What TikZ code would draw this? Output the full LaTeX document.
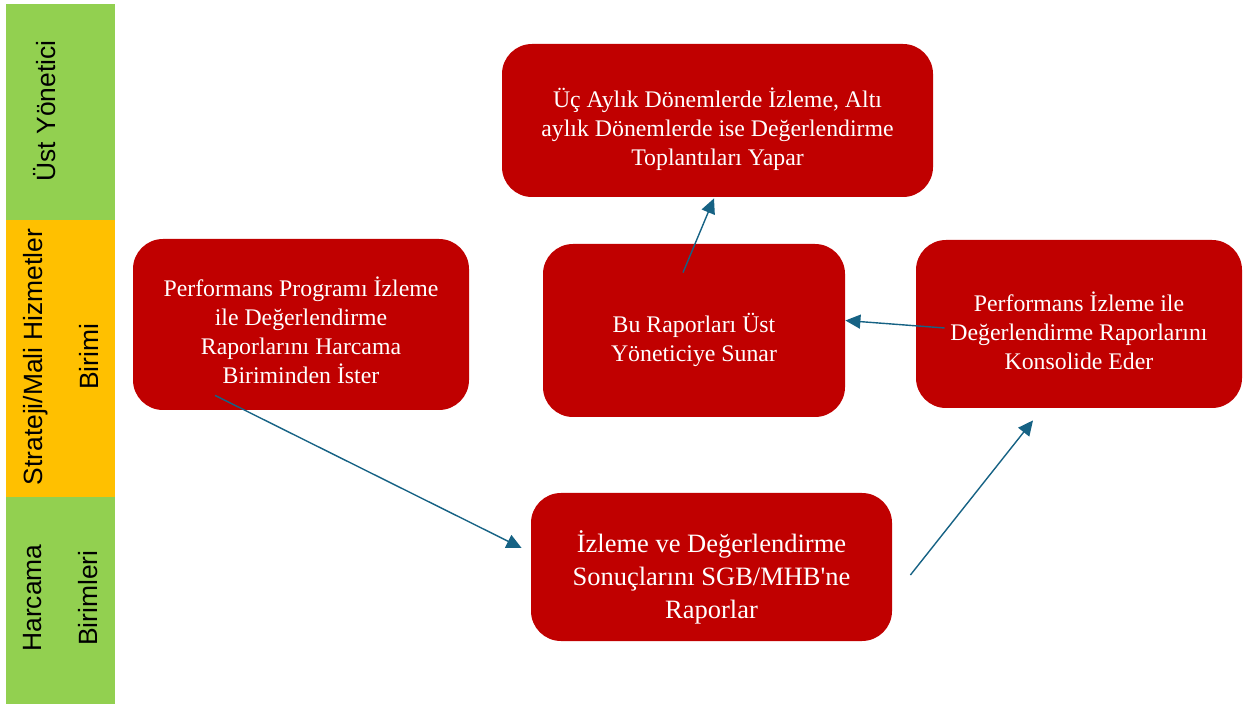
\documentclass[tikz,border=0pt]{standalone}
\usepackage{fontspec}
\setmainfont{Liberation Serif}
\setsansfont{Liberation Sans}
\usetikzlibrary{arrows.meta}

\definecolor{laneGreen}{RGB}{146,208,80}
\definecolor{laneOrange}{RGB}{255,192,0}
\definecolor{boxRed}{RGB}{192,0,0}
\definecolor{flowBlue}{RGB}{22,98,132}

% lines of a step, lowered by #1 inside the box
\newcommand{\steplines}[2]{\raisebox{-#1}[\height][\depth]{\begin{tabular}{@{}c@{}}#2\end{tabular}}}

\tikzset{
  stepbox/.style={fill=boxRed, rounded corners=15pt, text=white, align=center,
    inner sep=0pt, font=\fontsize{11.9}{14.5}\selectfont},
  lanetext/.style={rotate=90, align=center, font=\sffamily\fontsize{13.2}{28}\selectfont},
  flow/.style={draw=flowBlue, line width=0.7pt, -{Triangle[length=7.5pt,width=7pt]}},
}

\begin{document}
\begin{tikzpicture}[x=0.5pt, y=-0.5pt]
  \useasboundingbox (0,0) rectangle (1246,704);

  % swim lanes
  \fill[laneGreen]  (6,4)   rectangle (115,220);
  \fill[laneOrange] (6,220) rectangle (115,497);
  \fill[laneGreen]  (6,497) rectangle (115,704);
  \node[lanetext] (ustlane)  at (45,111) {Üst Yönetici};
  \node[lanetext] (sgblane)  at (61,357) {Strateji/Mali Hizmetler\\Birimi};
  \node[lanetext] (harclane) at (61,598) {Harcama\\Birimleri};

  % steps
  \node[stepbox, minimum width=215.5pt, minimum height=76.5pt] (toplanti) at (717.5,120.5)
    {\steplines{5.25pt}{Üç Aylık Dönemlerde İzleme, Altı\\aylık Dönemlerde ise Değerlendirme\\Toplantıları Yapar}};
  \node[stepbox, minimum width=151pt, minimum height=86.5pt] (sunar) at (694,330.5)
    {\steplines{5.5pt}{Bu Raporları Üst\\Yöneticiye Sunar}};
  \node[stepbox, minimum width=163pt, minimum height=84pt] (konsolide) at (1079,324)
    {\steplines{5.5pt}{Performans İzleme ile\\Değerlendirme Raporlarını\\Konsolide Eder}};
  \node[stepbox, minimum width=168pt, minimum height=85.5pt] (ister) at (301,324.5)
    {\steplines{5pt}{Performans Programı İzleme\\ile Değerlendirme\\Raporlarını Harcama\\Biriminden İster}};
  \node[stepbox, minimum width=180.5pt, minimum height=74pt,
    font=\fontsize{13.25}{16.5}\selectfont] (sonuc) at (711.5,567)
    {\steplines{6pt}{İzleme ve Değerlendirme\\Sonuçlarını SGB/MHB\textquotesingle ne\\Raporlar}};

  % flow
  \draw[flow] ([xshift=-43pt,yshift=7.5pt]ister.south) -- ([xshift=-4.5pt,yshift=9.5pt]sonuc.west);
  \draw[flow] ([xshift=9pt,yshift=-4pt]sonuc.east) -- ([xshift=-23pt,yshift=-6pt]konsolide.south);
  \draw[flow] ([xshift=14.5pt,yshift=-2pt]konsolide.west) -- ([yshift=5pt]sunar.east);
  \draw[flow] ([xshift=-5.5pt,yshift=-14.5pt]sunar.north) -- ([xshift=-1.75pt,yshift=-0.5pt]toplanti.south);
\end{tikzpicture}
\end{document}
